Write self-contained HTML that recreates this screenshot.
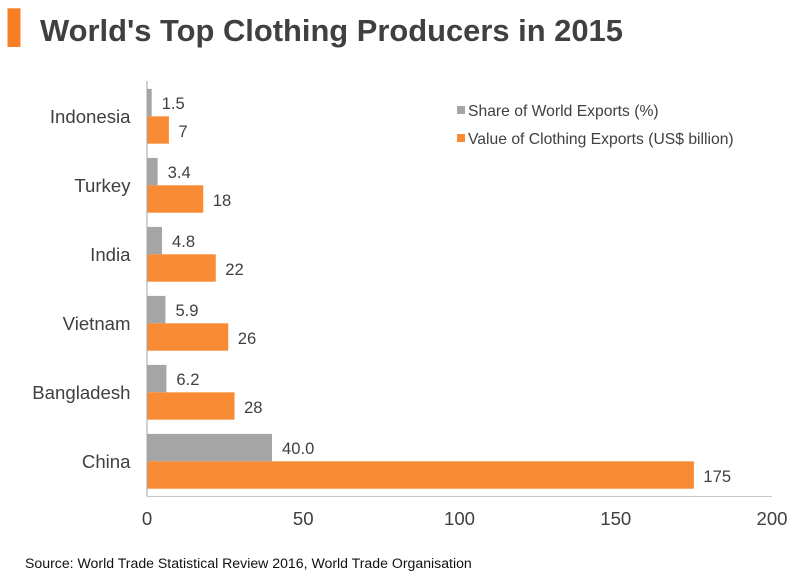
<!DOCTYPE html>
<html>
<head>
<meta charset="utf-8">
<style>
html,body{margin:0;padding:0;background:#fff;}
svg{display:block;}
text{font-family:"Liberation Sans",sans-serif;}
</style>
</head>
<body>
<svg id="chart" width="800" height="579" viewBox="0 0 800 579" xmlns="http://www.w3.org/2000/svg">
<rect x="7.5" y="8.3" width="13" height="38.7" fill="#f97f27"/>
<text x="40" y="41" font-size="30.9" font-weight="bold" fill="#404040">World's Top Clothing Producers in 2015</text>
<g id="plot"></g>
<rect x="457" y="106" width="8" height="8" fill="#a5a5a5"/>
<text x="468" y="116" font-size="15.7" fill="#404040">Share of World Exports (%)</text>
<rect x="457" y="134" width="8" height="8" fill="#f88b33"/>
<text x="468" y="144" font-size="15.7" fill="#404040">Value of Clothing Exports (US$ billion)</text>
<text x="25" y="568" font-size="14.1" fill="#111111">Source: World Trade Statistical Review 2016, World Trade Organisation</text>
</svg>
<script>
var categories = ['Indonesia', 'Turkey', 'India', 'Vietnam', 'Bangladesh', 'China'];
var shareValues = [1.5, 3.4, 4.8, 5.9, 6.2, 40.0];
var exportValues = [7, 18, 22, 26, 28, 175];
var xTicks = [0, 50, 100, 150, 200];

var NS = 'http://www.w3.org/2000/svg';
var plot = document.getElementById('plot');
var left = 147, right = 772, axisTop = 81, bottom = 496.5;
var xMax = 200;
var bandTop = 81.8;
var band = 69;
var barH = 27.4;

function xScale(v) { return left + (v / xMax) * (right - left); }
function yBand(i) { return bandTop + band * i; }
function make(tag, attrs, txt) {
  var el = document.createElementNS(NS, tag);
  for (var k in attrs) { el.setAttribute(k, attrs[k]); }
  if (txt !== undefined) { el.textContent = txt; }
  plot.appendChild(el);
  return el;
}

categories.forEach(function (cat, i) {
  var mid = yBand(i) + band / 2;
  var label = make('text', {x: 130.5, y: mid + 6.5, 'font-size': 18.6, 'text-anchor': 'end', fill: '#404040'}, cat);
  
  

  var grey = make('rect', {x: left, y: mid - barH, width: xScale(shareValues[i]) - left, height: barH, fill: '#a5a5a5'});
  
  

  var orange = make('rect', {x: left, y: mid, width: xScale(exportValues[i]) - left, height: barH, fill: '#f88b33'});
  
  

  var shareText = make('text', {x: xScale(shareValues[i]) + 10, y: mid - 7.5, 'font-size': 16.6, fill: '#404040'}, shareValues[i].toFixed(1));
  
  

  var valueText = make('text', {x: xScale(exportValues[i]) + 9.5, y: mid + 20.5, 'font-size': 16.6, fill: '#404040'}, String(exportValues[i]));
  
  
});

var yAxis = make('line', {x1: left, x2: left, y1: axisTop, y2: bottom, stroke: '#a6a6a6', 'stroke-width': 1});



var xAxis = make('line', {x1: left, x2: right, y1: bottom, y2: bottom, stroke: '#c8c8c8', 'stroke-width': 1});



xTicks.forEach(function (t) {
  var tick = make('text', {x: xScale(t), y: 525, 'font-size': 18.6, 'text-anchor': 'middle', fill: '#404040'}, String(t));
  
  
});
</script>
</body>
</html>
